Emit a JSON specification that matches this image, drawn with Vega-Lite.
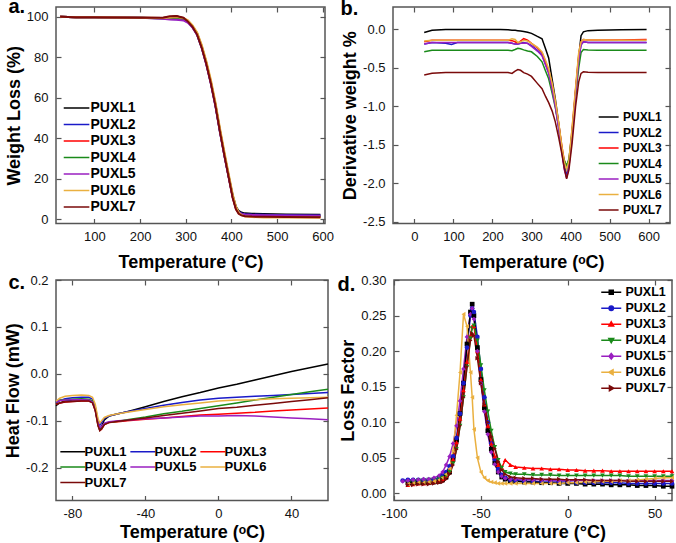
{
  "$schema": "https://vega.github.io/schema/vega-lite/v6.json",
  "background": "white",
  "padding": {"left": 3, "top": -4, "right": 2, "bottom": 0},
  "spacing": -2,
  "config": {
    "font": "Liberation Sans",
    "view": {"stroke": "#555", "strokeWidth": 1.5},
    "axis": {"grid": false, "domain": false, "labelFlush": false, "tickColor": "#555", "tickSize": -5, "tickWidth": 1.2, "labelFontSize": 13, "labelColor": "#111", "titleFontSize": 18, "titleFontWeight": "bold", "titleColor": "#000", "labelExpr": "replace(datum.label, '−', '-')"},
    "axisX": {"labelPadding": 12, "titlePadding": 10},
    "axisY": {"labelPadding": 13, "titlePadding": 3},
    "legend": {"labelFontWeight": "bold", "symbolStrokeWidth": 2, "padding": 0, "title": null},
    "line": {"strokeWidth": 1.5}
  },
  "datasets": {
    "ta": [
      {"x":25,"PUXL1":100,"PUXL2":100,"PUXL3":100,"PUXL4":100,"PUXL5":100,"PUXL6":100,"PUXL7":100},
      {"x":60,"PUXL1":99.8,"PUXL2":99.8,"PUXL3":99.8,"PUXL4":99.8,"PUXL5":99.8,"PUXL6":99.8,"PUXL7":99.8},
      {"x":100,"PUXL1":99.7,"PUXL2":99.7,"PUXL3":99.7,"PUXL4":99.7,"PUXL5":99.7,"PUXL6":99.7,"PUXL7":99.7},
      {"x":150,"PUXL1":99.6,"PUXL2":99.6,"PUXL3":99.6,"PUXL4":99.6,"PUXL5":99.6,"PUXL6":99.6,"PUXL7":99.6},
      {"x":200,"PUXL1":99.5,"PUXL2":99.5,"PUXL3":99.5,"PUXL4":99.5,"PUXL5":99.5,"PUXL6":99.5,"PUXL7":99.5},
      {"x":250,"PUXL1":99.4,"PUXL2":99.2,"PUXL3":99.4,"PUXL4":99.1,"PUXL5":99.0,"PUXL6":99.4,"PUXL7":99.5},
      {"x":265,"PUXL1":99.8,"PUXL2":98.9,"PUXL3":99.9,"PUXL4":99.2,"PUXL5":98.6,"PUXL6":99.6,"PUXL7":100.2},
      {"x":280,"PUXL1":100.2,"PUXL2":98.8,"PUXL3":100.1,"PUXL4":99.3,"PUXL5":98.5,"PUXL6":99.9,"PUXL7":100.4},
      {"x":295,"PUXL1":99.3,"PUXL2":98.5,"PUXL3":99.2,"PUXL4":98.8,"PUXL5":98.2,"PUXL6":99.4,"PUXL7":99.5},
      {"x":305,"PUXL1":97.8,"PUXL2":97.3,"PUXL3":97.8,"PUXL4":97.5,"PUXL5":97.0,"PUXL6":98.2,"PUXL7":97.6},
      {"x":315,"PUXL1":95.3,"PUXL2":94.8,"PUXL3":95.3,"PUXL4":95.0,"PUXL5":94.6,"PUXL6":95.8,"PUXL7":95.0},
      {"x":325,"PUXL1":91.8,"PUXL2":91.2,"PUXL3":91.6,"PUXL4":91.3,"PUXL5":91.0,"PUXL6":92.3,"PUXL7":91.2},
      {"x":335,"PUXL1":85.5,"PUXL2":84.8,"PUXL3":85.3,"PUXL4":85.0,"PUXL5":84.7,"PUXL6":86.2,"PUXL7":84.8},
      {"x":345,"PUXL1":77.5,"PUXL2":76.8,"PUXL3":77.3,"PUXL4":77.0,"PUXL5":76.5,"PUXL6":78.3,"PUXL7":76.8},
      {"x":355,"PUXL1":68.0,"PUXL2":67.3,"PUXL3":67.8,"PUXL4":67.5,"PUXL5":67.0,"PUXL6":69.0,"PUXL7":67.3},
      {"x":365,"PUXL1":57.0,"PUXL2":56.3,"PUXL3":56.8,"PUXL4":56.5,"PUXL5":56.0,"PUXL6":58.0,"PUXL7":56.3},
      {"x":375,"PUXL1":44.0,"PUXL2":43.3,"PUXL3":43.8,"PUXL4":43.5,"PUXL5":43.0,"PUXL6":45.0,"PUXL7":43.3},
      {"x":385,"PUXL1":32.0,"PUXL2":31.3,"PUXL3":31.6,"PUXL4":31.5,"PUXL5":31.0,"PUXL6":33.0,"PUXL7":31.3},
      {"x":395,"PUXL1":20.5,"PUXL2":20.0,"PUXL3":20.0,"PUXL4":20.2,"PUXL5":19.8,"PUXL6":21.5,"PUXL7":19.8},
      {"x":403,"PUXL1":11.8,"PUXL2":11.2,"PUXL3":10.8,"PUXL4":11.2,"PUXL5":10.8,"PUXL6":12.3,"PUXL7":10.6},
      {"x":410,"PUXL1":6.3,"PUXL2":5.8,"PUXL3":5.2,"PUXL4":5.6,"PUXL5":5.5,"PUXL6":6.3,"PUXL7":5.0},
      {"x":416,"PUXL1":4.2,"PUXL2":3.8,"PUXL3":3.0,"PUXL4":3.4,"PUXL5":3.5,"PUXL6":3.5,"PUXL7":2.8},
      {"x":422,"PUXL1":3.4,"PUXL2":3.0,"PUXL3":2.2,"PUXL4":2.5,"PUXL5":2.7,"PUXL6":2.2,"PUXL7":2.0},
      {"x":430,"PUXL1":3.0,"PUXL2":2.6,"PUXL3":1.8,"PUXL4":2.1,"PUXL5":2.4,"PUXL6":1.5,"PUXL7":1.6},
      {"x":445,"PUXL1":2.8,"PUXL2":2.4,"PUXL3":1.6,"PUXL4":1.9,"PUXL5":2.2,"PUXL6":1.2,"PUXL7":1.4},
      {"x":470,"PUXL1":2.7,"PUXL2":2.3,"PUXL3":1.5,"PUXL4":1.8,"PUXL5":2.1,"PUXL6":1.0,"PUXL7":1.3},
      {"x":520,"PUXL1":2.5,"PUXL2":2.1,"PUXL3":1.4,"PUXL4":1.7,"PUXL5":1.9,"PUXL6":0.9,"PUXL7":1.2},
      {"x":595,"PUXL1":2.3,"PUXL2":2.0,"PUXL3":1.3,"PUXL4":1.6,"PUXL5":1.8,"PUXL6":0.8,"PUXL7":1.1}
    ],
    "tb": [
      {"x":25,"PUXL1":-0.04,"PUXL2":-0.19,"PUXL3":-0.16,"PUXL4":-0.29,"PUXL5":-0.19,"PUXL6":-0.15,"PUXL7":-0.59},
      {"x":45,"PUXL1":-0.01,"PUXL2":-0.17,"PUXL3":-0.14,"PUXL4":-0.27,"PUXL5":-0.17,"PUXL6":-0.14,"PUXL7":-0.57},
      {"x":80,"PUXL1":0.0,"PUXL2":-0.18,"PUXL3":-0.14,"PUXL4":-0.27,"PUXL5":-0.17,"PUXL6":-0.14,"PUXL7":-0.56},
      {"x":95,"PUXL1":0.0,"PUXL2":-0.195,"PUXL3":-0.14,"PUXL4":-0.27,"PUXL5":-0.17,"PUXL6":-0.14,"PUXL7":-0.56},
      {"x":110,"PUXL1":0.0,"PUXL2":-0.17,"PUXL3":-0.14,"PUXL4":-0.27,"PUXL5":-0.17,"PUXL6":-0.14,"PUXL7":-0.56},
      {"x":160,"PUXL1":0.0,"PUXL2":-0.17,"PUXL3":-0.14,"PUXL4":-0.27,"PUXL5":-0.17,"PUXL6":-0.14,"PUXL7":-0.56},
      {"x":220,"PUXL1":0.0,"PUXL2":-0.17,"PUXL3":-0.14,"PUXL4":-0.27,"PUXL5":-0.17,"PUXL6":-0.14,"PUXL7":-0.56},
      {"x":240,"PUXL1":-0.005,"PUXL2":-0.17,"PUXL3":-0.14,"PUXL4":-0.27,"PUXL5":-0.17,"PUXL6":-0.14,"PUXL7":-0.56},
      {"x":250,"PUXL1":-0.01,"PUXL2":-0.18,"PUXL3":-0.145,"PUXL4":-0.275,"PUXL5":-0.18,"PUXL6":-0.12,"PUXL7":-0.57},
      {"x":258,"PUXL1":-0.01,"PUXL2":-0.19,"PUXL3":-0.16,"PUXL4":-0.26,"PUXL5":-0.19,"PUXL6":-0.13,"PUXL7":-0.54},
      {"x":265,"PUXL1":-0.015,"PUXL2":-0.19,"PUXL3":-0.18,"PUXL4":-0.245,"PUXL5":-0.19,"PUXL6":-0.17,"PUXL7":-0.52},
      {"x":272,"PUXL1":-0.02,"PUXL2":-0.18,"PUXL3":-0.15,"PUXL4":-0.25,"PUXL5":-0.18,"PUXL6":-0.16,"PUXL7":-0.53},
      {"x":280,"PUXL1":-0.025,"PUXL2":-0.17,"PUXL3":-0.12,"PUXL4":-0.265,"PUXL5":-0.175,"PUXL6":-0.14,"PUXL7":-0.56},
      {"x":290,"PUXL1":-0.035,"PUXL2":-0.18,"PUXL3":-0.14,"PUXL4":-0.28,"PUXL5":-0.18,"PUXL6":-0.15,"PUXL7":-0.58},
      {"x":300,"PUXL1":-0.05,"PUXL2":-0.21,"PUXL3":-0.18,"PUXL4":-0.29,"PUXL5":-0.22,"PUXL6":-0.18,"PUXL7":-0.61},
      {"x":315,"PUXL1":-0.09,"PUXL2":-0.27,"PUXL3":-0.24,"PUXL4":-0.35,"PUXL5":-0.28,"PUXL6":-0.23,"PUXL7":-0.70},
      {"x":327,"PUXL1":-0.12,"PUXL2":-0.33,"PUXL3":-0.30,"PUXL4":-0.42,"PUXL5":-0.34,"PUXL6":-0.29,"PUXL7":-0.77},
      {"x":336,"PUXL1":-0.25,"PUXL2":-0.45,"PUXL3":-0.42,"PUXL4":-0.54,"PUXL5":-0.46,"PUXL6":-0.40,"PUXL7":-0.87},
      {"x":344,"PUXL1":-0.37,"PUXL2":-0.56,"PUXL3":-0.53,"PUXL4":-0.64,"PUXL5":-0.57,"PUXL6":-0.51,"PUXL7":-0.95},
      {"x":353,"PUXL1":-0.65,"PUXL2":-0.75,"PUXL3":-0.72,"PUXL4":-0.83,"PUXL5":-0.78,"PUXL6":-0.70,"PUXL7":-1.06},
      {"x":361,"PUXL1":-0.90,"PUXL2":-0.98,"PUXL3":-0.95,"PUXL4":-1.01,"PUXL5":-1.0,"PUXL6":-0.92,"PUXL7":-1.20},
      {"x":370,"PUXL1":-1.23,"PUXL2":-1.28,"PUXL3":-1.24,"PUXL4":-1.28,"PUXL5":-1.30,"PUXL6":-1.22,"PUXL7":-1.41},
      {"x":378,"PUXL1":-1.55,"PUXL2":-1.58,"PUXL3":-1.52,"PUXL4":-1.58,"PUXL5":-1.60,"PUXL6":-1.52,"PUXL7":-1.62},
      {"x":384,"PUXL1":-1.78,"PUXL2":-1.78,"PUXL3":-1.70,"PUXL4":-1.70,"PUXL5":-1.82,"PUXL6":-1.72,"PUXL7":-1.80},
      {"x":390,"PUXL1":-1.92,"PUXL2":-1.86,"PUXL3":-1.78,"PUXL4":-1.77,"PUXL5":-1.93,"PUXL6":-1.82,"PUXL7":-1.94},
      {"x":396,"PUXL1":-1.75,"PUXL2":-1.72,"PUXL3":-1.70,"PUXL4":-1.68,"PUXL5":-1.78,"PUXL6":-1.70,"PUXL7":-1.82},
      {"x":404,"PUXL1":-1.36,"PUXL2":-1.34,"PUXL3":-1.30,"PUXL4":-1.34,"PUXL5":-1.40,"PUXL6":-1.28,"PUXL7":-1.48},
      {"x":413,"PUXL1":-0.80,"PUXL2":-0.82,"PUXL3":-0.78,"PUXL4":-0.88,"PUXL5":-0.85,"PUXL6":-0.75,"PUXL7":-1.0},
      {"x":421,"PUXL1":-0.36,"PUXL2":-0.38,"PUXL3":-0.33,"PUXL4":-0.50,"PUXL5":-0.40,"PUXL6":-0.30,"PUXL7":-0.68},
      {"x":427,"PUXL1":-0.08,"PUXL2":-0.20,"PUXL3":-0.16,"PUXL4":-0.30,"PUXL5":-0.20,"PUXL6":-0.16,"PUXL7":-0.57},
      {"x":433,"PUXL1":-0.03,"PUXL2":-0.16,"PUXL3":-0.13,"PUXL4":-0.26,"PUXL5":-0.16,"PUXL6":-0.13,"PUXL7":-0.55},
      {"x":445,"PUXL1":-0.015,"PUXL2":-0.17,"PUXL3":-0.135,"PUXL4":-0.265,"PUXL5":-0.17,"PUXL6":-0.135,"PUXL7":-0.555},
      {"x":470,"PUXL1":-0.01,"PUXL2":-0.17,"PUXL3":-0.135,"PUXL4":-0.27,"PUXL5":-0.17,"PUXL6":-0.135,"PUXL7":-0.56},
      {"x":530,"PUXL1":-0.005,"PUXL2":-0.17,"PUXL3":-0.135,"PUXL4":-0.27,"PUXL5":-0.17,"PUXL6":-0.14,"PUXL7":-0.56},
      {"x":595,"PUXL1":0.0,"PUXL2":-0.17,"PUXL3":-0.13,"PUXL4":-0.27,"PUXL5":-0.17,"PUXL6":-0.14,"PUXL7":-0.56}
    ],
    "tc": [
      {"x":-89,"PUXL1":-0.068,"PUXL2":-0.062,"PUXL3":-0.065,"PUXL4":-0.06,"PUXL5":-0.06,"PUXL6":-0.058,"PUXL7":-0.065},
      {"x":-87,"PUXL1":-0.062,"PUXL2":-0.057,"PUXL3":-0.062,"PUXL4":-0.056,"PUXL5":-0.057,"PUXL6":-0.052,"PUXL7":-0.062},
      {"x":-84,"PUXL1":-0.058,"PUXL2":-0.053,"PUXL3":-0.06,"PUXL4":-0.055,"PUXL5":-0.056,"PUXL6":-0.048,"PUXL7":-0.06},
      {"x":-80,"PUXL1":-0.056,"PUXL2":-0.051,"PUXL3":-0.059,"PUXL4":-0.054,"PUXL5":-0.055,"PUXL6":-0.046,"PUXL7":-0.059},
      {"x":-75,"PUXL1":-0.055,"PUXL2":-0.05,"PUXL3":-0.058,"PUXL4":-0.053,"PUXL5":-0.055,"PUXL6":-0.045,"PUXL7":-0.058},
      {"x":-71,"PUXL1":-0.056,"PUXL2":-0.05,"PUXL3":-0.058,"PUXL4":-0.054,"PUXL5":-0.056,"PUXL6":-0.046,"PUXL7":-0.058},
      {"x":-69,"PUXL1":-0.06,"PUXL2":-0.054,"PUXL3":-0.061,"PUXL4":-0.058,"PUXL5":-0.06,"PUXL6":-0.05,"PUXL7":-0.062},
      {"x":-67.5,"PUXL1":-0.075,"PUXL2":-0.07,"PUXL3":-0.078,"PUXL4":-0.075,"PUXL5":-0.076,"PUXL6":-0.065,"PUXL7":-0.078},
      {"x":-66,"PUXL1":-0.105,"PUXL2":-0.1,"PUXL3":-0.11,"PUXL4":-0.108,"PUXL5":-0.105,"PUXL6":-0.095,"PUXL7":-0.11},
      {"x":-65,"PUXL1":-0.118,"PUXL2":-0.11,"PUXL3":-0.121,"PUXL4":-0.12,"PUXL5":-0.115,"PUXL6":-0.105,"PUXL7":-0.121},
      {"x":-64,"PUXL1":-0.112,"PUXL2":-0.104,"PUXL3":-0.118,"PUXL4":-0.116,"PUXL5":-0.112,"PUXL6":-0.1,"PUXL7":-0.117},
      {"x":-62.5,"PUXL1":-0.098,"PUXL2":-0.095,"PUXL3":-0.108,"PUXL4":-0.107,"PUXL5":-0.105,"PUXL6":-0.093,"PUXL7":-0.108},
      {"x":-60,"PUXL1":-0.09,"PUXL2":-0.09,"PUXL3":-0.104,"PUXL4":-0.103,"PUXL5":-0.102,"PUXL6":-0.089,"PUXL7":-0.104},
      {"x":-55,"PUXL1":-0.085,"PUXL2":-0.085,"PUXL3":-0.102,"PUXL4":-0.101,"PUXL5":-0.1,"PUXL6":-0.085,"PUXL7":-0.101},
      {"x":-50,"PUXL1":-0.081,"PUXL2":-0.081,"PUXL3":-0.1,"PUXL4":-0.098,"PUXL5":-0.099,"PUXL6":-0.082,"PUXL7":-0.099},
      {"x":-40,"PUXL1":-0.07,"PUXL2":-0.074,"PUXL3":-0.097,"PUXL4":-0.092,"PUXL5":-0.096,"PUXL6":-0.076,"PUXL7":-0.094},
      {"x":-30,"PUXL1":-0.059,"PUXL2":-0.067,"PUXL3":-0.094,"PUXL4":-0.085,"PUXL5":-0.094,"PUXL6":-0.07,"PUXL7":-0.089},
      {"x":-20,"PUXL1":-0.049,"PUXL2":-0.061,"PUXL3":-0.091,"PUXL4":-0.08,"PUXL5":-0.092,"PUXL6":-0.066,"PUXL7":-0.084},
      {"x":-10,"PUXL1":-0.04,"PUXL2":-0.056,"PUXL3":-0.088,"PUXL4":-0.074,"PUXL5":-0.09,"PUXL6":-0.062,"PUXL7":-0.079},
      {"x":0,"PUXL1":-0.03,"PUXL2":-0.052,"PUXL3":-0.086,"PUXL4":-0.068,"PUXL5":-0.09,"PUXL6":-0.058,"PUXL7":-0.074},
      {"x":10,"PUXL1":-0.022,"PUXL2":-0.05,"PUXL3":-0.084,"PUXL4":-0.062,"PUXL5":-0.089,"PUXL6":-0.056,"PUXL7":-0.071},
      {"x":20,"PUXL1":-0.013,"PUXL2":-0.048,"PUXL3":-0.082,"PUXL4":-0.056,"PUXL5":-0.09,"PUXL6":-0.055,"PUXL7":-0.067},
      {"x":30,"PUXL1":-0.004,"PUXL2":-0.046,"PUXL3":-0.079,"PUXL4":-0.05,"PUXL5":-0.092,"PUXL6":-0.053,"PUXL7":-0.063},
      {"x":40,"PUXL1":0.005,"PUXL2":-0.044,"PUXL3":-0.077,"PUXL4":-0.044,"PUXL5":-0.094,"PUXL6":-0.052,"PUXL7":-0.059},
      {"x":50,"PUXL1":0.013,"PUXL2":-0.042,"PUXL3":-0.075,"PUXL4":-0.038,"PUXL5":-0.096,"PUXL6":-0.051,"PUXL7":-0.055},
      {"x":60,"PUXL1":0.021,"PUXL2":-0.04,"PUXL3":-0.073,"PUXL4":-0.033,"PUXL5":-0.098,"PUXL6":-0.05,"PUXL7":-0.051}
    ],
    "td": [
      {"x":-95,"PUXL1":null,"PUXL2":0.018,"PUXL3":null,"PUXL4":null,"PUXL5":0.017,"PUXL6":null,"PUXL7":null},
      {"x":-92,"PUXL1":0.015,"PUXL2":0.019,"PUXL3":0.012,"PUXL4":0.016,"PUXL5":0.018,"PUXL6":0.013,"PUXL7":0.012},
      {"x":-89,"PUXL1":0.015,"PUXL2":0.019,"PUXL3":0.013,"PUXL4":0.017,"PUXL5":0.019,"PUXL6":0.014,"PUXL7":0.012},
      {"x":-86,"PUXL1":0.015,"PUXL2":0.019,"PUXL3":0.014,"PUXL4":0.018,"PUXL5":0.019,"PUXL6":0.015,"PUXL7":0.013},
      {"x":-83,"PUXL1":0.015,"PUXL2":0.019,"PUXL3":0.014,"PUXL4":0.018,"PUXL5":0.02,"PUXL6":0.015,"PUXL7":0.013},
      {"x":-80,"PUXL1":0.015,"PUXL2":0.019,"PUXL3":0.015,"PUXL4":0.019,"PUXL5":0.02,"PUXL6":0.016,"PUXL7":0.013},
      {"x":-77,"PUXL1":0.016,"PUXL2":0.02,"PUXL3":0.016,"PUXL4":0.02,"PUXL5":0.022,"PUXL6":0.017,"PUXL7":0.014},
      {"x":-74,"PUXL1":0.017,"PUXL2":0.022,"PUXL3":0.018,"PUXL4":0.021,"PUXL5":0.025,"PUXL6":0.019,"PUXL7":0.015},
      {"x":-72,"PUXL1":0.019,"PUXL2":0.025,"PUXL3":0.02,"PUXL4":0.022,"PUXL5":0.03,"PUXL6":0.022,"PUXL7":0.016},
      {"x":-70,"PUXL1":0.023,"PUXL2":0.03,"PUXL3":0.025,"PUXL4":0.025,"PUXL5":0.04,"PUXL6":0.027,"PUXL7":0.02},
      {"x":-68,"PUXL1":0.03,"PUXL2":0.038,"PUXL3":0.032,"PUXL4":0.03,"PUXL5":0.052,"PUXL6":0.035,"PUXL7":0.027},
      {"x":-66,"PUXL1":0.048,"PUXL2":0.052,"PUXL3":0.048,"PUXL4":0.042,"PUXL5":0.07,"PUXL6":0.06,"PUXL7":0.04},
      {"x":-64,"PUXL1":0.075,"PUXL2":0.078,"PUXL3":0.072,"PUXL4":0.062,"PUXL5":0.095,"PUXL6":0.11,"PUXL7":0.062},
      {"x":-62,"PUXL1":0.112,"PUXL2":0.112,"PUXL3":0.105,"PUXL4":0.095,"PUXL5":0.13,"PUXL6":0.17,"PUXL7":0.095},
      {"x":-60,"PUXL1":0.155,"PUXL2":0.155,"PUXL3":0.145,"PUXL4":0.135,"PUXL5":0.175,"PUXL6":0.252,"PUXL7":0.135},
      {"x":-58,"PUXL1":0.21,"PUXL2":0.205,"PUXL3":0.185,"PUXL4":0.178,"PUXL5":0.22,"PUXL6":0.235,"PUXL7":0.178},
      {"x":-56,"PUXL1":0.255,"PUXL2":0.25,"PUXL3":0.222,"PUXL4":0.218,"PUXL5":0.252,"PUXL6":0.17,"PUXL7":0.215},
      {"x":-55,"PUXL1":0.266,"PUXL2":0.26,"PUXL3":0.235,"PUXL4":0.232,"PUXL5":0.26,"PUXL6":0.135,"PUXL7":0.225},
      {"x":-54,"PUXL1":0.25,"PUXL2":0.255,"PUXL3":0.235,"PUXL4":0.236,"PUXL5":0.245,"PUXL6":0.09,"PUXL7":0.222},
      {"x":-52,"PUXL1":0.205,"PUXL2":0.22,"PUXL3":0.2,"PUXL4":0.215,"PUXL5":0.2,"PUXL6":0.05,"PUXL7":0.19},
      {"x":-50,"PUXL1":0.16,"PUXL2":0.175,"PUXL3":0.16,"PUXL4":0.18,"PUXL5":0.155,"PUXL6":0.03,"PUXL7":0.155},
      {"x":-48,"PUXL1":0.12,"PUXL2":0.135,"PUXL3":0.125,"PUXL4":0.145,"PUXL5":0.115,"PUXL6":0.022,"PUXL7":0.125},
      {"x":-46,"PUXL1":0.088,"PUXL2":0.1,"PUXL3":0.095,"PUXL4":0.115,"PUXL5":0.083,"PUXL6":0.018,"PUXL7":0.1},
      {"x":-44,"PUXL1":0.062,"PUXL2":0.07,"PUXL3":0.07,"PUXL4":0.088,"PUXL5":0.058,"PUXL6":0.016,"PUXL7":0.08},
      {"x":-42,"PUXL1":0.043,"PUXL2":0.048,"PUXL3":0.052,"PUXL4":0.065,"PUXL5":0.041,"PUXL6":0.015,"PUXL7":0.063},
      {"x":-40,"PUXL1":0.03,"PUXL2":0.034,"PUXL3":0.04,"PUXL4":0.047,"PUXL5":0.03,"PUXL6":0.014,"PUXL7":0.045},
      {"x":-38,"PUXL1":0.023,"PUXL2":0.026,"PUXL3":0.036,"PUXL4":0.036,"PUXL5":0.024,"PUXL6":0.014,"PUXL7":0.033},
      {"x":-36,"PUXL1":0.02,"PUXL2":0.022,"PUXL3":0.047,"PUXL4":0.03,"PUXL5":0.021,"PUXL6":0.014,"PUXL7":0.027},
      {"x":-33,"PUXL1":0.018,"PUXL2":0.019,"PUXL3":0.04,"PUXL4":0.028,"PUXL5":0.02,"PUXL6":0.014,"PUXL7":0.023},
      {"x":-30,"PUXL1":0.017,"PUXL2":0.018,"PUXL3":0.037,"PUXL4":0.027,"PUXL5":0.02,"PUXL6":0.014,"PUXL7":0.022},
      {"x":-25,"PUXL1":0.016,"PUXL2":0.017,"PUXL3":0.036,"PUXL4":0.027,"PUXL5":0.019,"PUXL6":0.014,"PUXL7":0.021},
      {"x":-20,"PUXL1":0.016,"PUXL2":0.017,"PUXL3":0.035,"PUXL4":0.026,"PUXL5":0.019,"PUXL6":0.014,"PUXL7":0.021},
      {"x":-15,"PUXL1":0.015,"PUXL2":0.016,"PUXL3":0.035,"PUXL4":0.026,"PUXL5":0.019,"PUXL6":0.014,"PUXL7":0.02},
      {"x":-10,"PUXL1":0.015,"PUXL2":0.016,"PUXL3":0.034,"PUXL4":0.026,"PUXL5":0.018,"PUXL6":0.014,"PUXL7":0.02},
      {"x":-5,"PUXL1":0.014,"PUXL2":0.016,"PUXL3":0.034,"PUXL4":0.025,"PUXL5":0.018,"PUXL6":0.014,"PUXL7":0.02},
      {"x":0,"PUXL1":0.014,"PUXL2":0.016,"PUXL3":0.033,"PUXL4":0.025,"PUXL5":0.018,"PUXL6":0.015,"PUXL7":0.019},
      {"x":5,"PUXL1":0.014,"PUXL2":0.015,"PUXL3":0.033,"PUXL4":0.025,"PUXL5":0.018,"PUXL6":0.015,"PUXL7":0.019},
      {"x":10,"PUXL1":0.013,"PUXL2":0.015,"PUXL3":0.032,"PUXL4":0.025,"PUXL5":0.018,"PUXL6":0.016,"PUXL7":0.019},
      {"x":15,"PUXL1":0.013,"PUXL2":0.015,"PUXL3":0.032,"PUXL4":0.025,"PUXL5":0.018,"PUXL6":0.016,"PUXL7":0.018},
      {"x":20,"PUXL1":0.013,"PUXL2":0.015,"PUXL3":0.032,"PUXL4":0.025,"PUXL5":0.018,"PUXL6":0.017,"PUXL7":0.018},
      {"x":25,"PUXL1":0.012,"PUXL2":0.015,"PUXL3":0.031,"PUXL4":0.025,"PUXL5":0.018,"PUXL6":0.017,"PUXL7":0.018},
      {"x":30,"PUXL1":0.012,"PUXL2":0.015,"PUXL3":0.031,"PUXL4":0.025,"PUXL5":0.018,"PUXL6":0.018,"PUXL7":0.018},
      {"x":35,"PUXL1":0.012,"PUXL2":0.014,"PUXL3":0.031,"PUXL4":0.024,"PUXL5":0.018,"PUXL6":0.018,"PUXL7":0.017},
      {"x":40,"PUXL1":0.011,"PUXL2":0.014,"PUXL3":0.031,"PUXL4":0.024,"PUXL5":0.018,"PUXL6":0.019,"PUXL7":0.017},
      {"x":45,"PUXL1":0.011,"PUXL2":0.014,"PUXL3":0.031,"PUXL4":0.024,"PUXL5":0.018,"PUXL6":0.02,"PUXL7":0.017},
      {"x":50,"PUXL1":0.011,"PUXL2":0.014,"PUXL3":0.031,"PUXL4":0.024,"PUXL5":0.018,"PUXL6":0.021,"PUXL7":0.017},
      {"x":55,"PUXL1":0.01,"PUXL2":0.014,"PUXL3":0.031,"PUXL4":0.024,"PUXL5":0.018,"PUXL6":0.022,"PUXL7":0.017},
      {"x":60,"PUXL1":0.01,"PUXL2":0.014,"PUXL3":0.031,"PUXL4":0.024,"PUXL5":0.018,"PUXL6":0.022,"PUXL7":0.017}
    ]
  },
  "vconcat": [
    {
      "spacing": 4,
      "hconcat": [
        {
          "width": 269, "height": 216.5,
          "data": {"name": "ta"},
          "transform": [{"fold": ["PUXL1","PUXL2","PUXL3","PUXL4","PUXL5","PUXL6","PUXL7"], "as": ["s","y"]}],
          "resolve": {"axis": {"x": "independent", "y": "independent"}},
          "layer": [
            {
              "mark": {"type": "line", "strokeWidth": 2},
              "encoding": {
                "x": {"field": "x", "type": "quantitative", "scale": {"domain": [16, 605], "nice": false, "zero": false}, "axis": {"title": "Temperature (°C)", "values": [100,200,300,400,500,600]}},
                "y": {"field": "y", "type": "quantitative", "scale": {"domain": [-2, 104.8], "nice": false, "zero": false}, "axis": {"title": "Weight Loss (%)", "values": [0,20,40,60,80,100]}},
                "color": {"field": "s", "type": "nominal", "sort": null,
                  "scale": {"domain": ["PUXL1","PUXL2","PUXL3","PUXL4","PUXL5","PUXL6","PUXL7"], "range": ["#000000","#1a1ac8","#ff0000","#1a8a1a","#9a1fc0","#eab040","#7a0a0a"]},
                  "legend": {"orient": "none", "legendX": 5, "legendY": 94, "labelFontSize": 14, "symbolType": "M-1,0H5", "symbolSize": 73, "labelOffset": 15.5, "rowPadding": 2.5,
                    "encode": {"labels": {"update": {"fill": {"signal": "['#000000','#1a1ac8','#ff0000','#1a8a1a','#9a1fc0','#eab040','#7a0a0a'][indexof(['PUXL1','PUXL2','PUXL3','PUXL4','PUXL5','PUXL6','PUXL7'], datum.value)]"}}}}}}
              }
            },
            {
              "mark": {"type": "line", "opacity": 0},
              "encoding": {
                "x": {"field": "x", "type": "quantitative", "axis": {"orient": "top", "labels": false, "values": [100,200,300,400,500,600], "title": "a.", "titleX": -48, "titleY": 5.8, "titleAngle": 0, "titleAlign": "left", "titleBaseline": "alphabetic", "titleFontSize": 20}},
                "y": {"field": "y", "type": "quantitative", "axis": {"orient": "right", "labels": false, "title": null, "values": [0,20,40,60,80,100]}}
              }
            }
          ]
        },
        {
          "width": 277, "height": 216.5,
          "data": {"name": "tb"},
          "transform": [{"fold": ["PUXL1","PUXL2","PUXL3","PUXL4","PUXL5","PUXL6","PUXL7"], "as": ["s","y"]}],
          "resolve": {"axis": {"x": "independent", "y": "independent"}},
          "layer": [
            {
              "mark": {"type": "line", "strokeWidth": 1.5},
              "encoding": {
                "x": {"field": "x", "type": "quantitative", "scale": {"domain": [-55, 655], "nice": false, "zero": false}, "axis": {"title": "Temperature (ᵒC)", "values": [0,100,200,300,400,500,600]}},
                "y": {"field": "y", "type": "quantitative", "scale": {"domain": [-2.52, 0.292], "nice": false, "zero": false}, "axis": {"title": "Derivative weight %", "values": [-2.5,-2,-1.5,-1,-0.5,0], "format": ".1f"}},
                "color": {"field": "s", "type": "nominal", "sort": null,
                  "scale": {"domain": ["PUXL1","PUXL2","PUXL3","PUXL4","PUXL5","PUXL6","PUXL7"], "range": ["#000000","#1a1ac8","#ff0000","#1a8a1a","#9a1fc0","#eab040","#7a0a0a"]},
                  "legend": {"orient": "bottom-right", "offset": 8, "labelFontSize": 12, "symbolType": "M-1,0H5", "symbolSize": 44, "labelOffset": 15, "rowPadding": 3.5,
                    "encode": {"labels": {"update": {"fill": {"signal": "['#000000','#1a1ac8','#ff0000','#1a8a1a','#9a1fc0','#eab040','#7a0a0a'][indexof(['PUXL1','PUXL2','PUXL3','PUXL4','PUXL5','PUXL6','PUXL7'], datum.value)]"}}}}}}
              }
            },
            {
              "mark": {"type": "line", "opacity": 0},
              "encoding": {
                "x": {"field": "x", "type": "quantitative", "axis": {"orient": "top", "labels": false, "values": [0,100,200,300,400,500,600], "title": "b.", "titleX": -53, "titleY": 7.5, "titleAngle": 0, "titleAlign": "left", "titleBaseline": "alphabetic", "titleFontSize": 20}},
                "y": {"field": "y", "type": "quantitative", "axis": {"orient": "right", "labels": false, "title": null, "values": [-2.5,-2,-1.5,-1,-0.5,0]}}
              }
            }
          ]
        }
      ]
    },
    {
      "spacing": 4,
      "hconcat": [
        {
          "width": 272, "height": 220.5,
          "data": {"name": "tc"},
          "transform": [{"fold": ["PUXL1","PUXL2","PUXL3","PUXL4","PUXL5","PUXL6","PUXL7"], "as": ["s","y"]}],
          "resolve": {"axis": {"x": "independent", "y": "independent"}},
          "layer": [
            {
              "mark": {"type": "line", "strokeWidth": 1.5},
              "encoding": {
                "x": {"field": "x", "type": "quantitative", "scale": {"domain": [-89, 60], "nice": false, "zero": false}, "axis": {"title": "Temperature (ᵒC)", "values": [-80,-40,0,40], "titlePadding": 3}},
                "y": {"field": "y", "type": "quantitative", "scale": {"domain": [-0.27, 0.2], "nice": false, "zero": false}, "axis": {"title": "Heat Flow (mW)", "values": [-0.2,-0.1,0,0.1,0.2], "format": ".1f"}},
                "color": {"field": "s", "type": "nominal", "sort": null,
                  "scale": {"domain": ["PUXL1","PUXL2","PUXL3","PUXL4","PUXL5","PUXL6","PUXL7"], "range": ["#000000","#1a1ac8","#ff0000","#1a8a1a","#9a1fc0","#eab040","#7a0a0a"]},
                  "legend": {"orient": "none", "legendX": 2, "legendY": 165, "direction": "horizontal", "columns": 3, "columnPadding": 0, "labelFontSize": 13, "symbolType": "M-1,0H5", "symbolSize": 69, "labelOffset": 13.5, "rowPadding": 1.5,
                    "encode": {"labels": {"update": {"fill": {"signal": "['#000000','#1a1ac8','#ff0000','#1a8a1a','#9a1fc0','#eab040','#7a0a0a'][indexof(['PUXL1','PUXL2','PUXL3','PUXL4','PUXL5','PUXL6','PUXL7'], datum.value)]"}}}}}}
              }
            },
            {
              "mark": {"type": "line", "opacity": 0},
              "encoding": {
                "x": {"field": "x", "type": "quantitative", "axis": {"orient": "top", "labels": false, "values": [-80,-40,0,40], "title": "c.", "titleX": -48, "titleY": 8.5, "titleAngle": 0, "titleAlign": "left", "titleBaseline": "alphabetic", "titleFontSize": 20}},
                "y": {"field": "y", "type": "quantitative", "axis": {"orient": "right", "labels": false, "title": null, "values": [-0.2,-0.1,0,0.1,0.2]}}
              }
            }
          ]
        },
        {
          "width": 278, "height": 220.5,
          "data": {"name": "td"},
          "transform": [{"fold": ["PUXL1","PUXL2","PUXL3","PUXL4","PUXL5","PUXL6","PUXL7"], "as": ["s","y"]}, {"filter": "datum.y != null"}],
          "resolve": {"axis": {"x": "independent", "y": "independent"}},
          "layer": [
            {
              "mark": {"type": "line", "strokeWidth": 1.5},
              "encoding": {
                "x": {"field": "x", "type": "quantitative", "scale": {"domain": [-100, 60], "nice": false, "zero": false}, "axis": {"title": "Temperature (°C)", "values": [-100,-50,0,50], "titlePadding": 3}},
                "y": {"field": "y", "type": "quantitative", "scale": {"domain": [-0.01, 0.3], "nice": false, "zero": false}, "axis": {"title": "Loss Factor", "values": [0,0.05,0.1,0.15,0.2,0.25,0.3], "format": ".2f"}},
                "color": {"field": "s", "type": "nominal", "sort": null,
                  "scale": {"domain": ["PUXL1","PUXL2","PUXL3","PUXL4","PUXL5","PUXL6","PUXL7"], "range": ["#000000","#1f3fc0","#ff0000","#1a8a1a","#9a1fc0","#eab040","#7a0a0a"]},
                  "legend": {"orient": "top-right", "offset": 6, "labelFontSize": 12.5, "symbolSize": 16, "rowPadding": 3, "labelOffset": 16, "symbolStrokeWidth": 1.5,
                    "symbolType": {"expr": "['M-1,0H9M3,-1H5V1H3Z','M-1,0H9M2.9,0A1.1,1.1,0,1,1,5.1,0A1.1,1.1,0,1,1,2.9,0Z','M-1,0H9M4,-1.2L5.2,0.9H2.8Z','M-1,0H9M4,1.2L5.2,-0.9H2.8Z','M-1,0H9M4,-1.35L5.1,0L4,1.35L2.9,0Z','M-1,0H9M2.8,0L4.9,-1.2V1.2Z','M-1,0H9M5.2,0L3.1,-1.2V1.2Z'][indexof(['PUXL1','PUXL2','PUXL3','PUXL4','PUXL5','PUXL6','PUXL7'], datum.value)]"},
                    "symbolFillColor": {"expr": "['#000000','#1f3fc0','#ff0000','#1a8a1a','#9a1fc0','#eab040','#7a0a0a'][indexof(['PUXL1','PUXL2','PUXL3','PUXL4','PUXL5','PUXL6','PUXL7'], datum.value)]"},
                    "encode": {"labels": {"update": {"fill": {"signal": "['#000000','#1f3fc0','#ff0000','#1a8a1a','#9a1fc0','#eab040','#7a0a0a'][indexof(['PUXL1','PUXL2','PUXL3','PUXL4','PUXL5','PUXL6','PUXL7'], datum.value)]"}}}}}}
              }
            },
            {
              "mark": {"type": "point", "filled": true, "size": 22, "opacity": 1},
              "encoding": {
                "x": {"field": "x", "type": "quantitative", "axis": {"orient": "top", "labels": false, "values": [-100,-50,0,50], "title": "d.", "titleX": -57, "titleY": 10.5, "titleAngle": 0, "titleAlign": "left", "titleBaseline": "alphabetic", "titleFontSize": 20}},
                "y": {"field": "y", "type": "quantitative", "axis": {"orient": "right", "labels": false, "title": null, "values": [0,0.05,0.1,0.15,0.2,0.25,0.3]}},
                "color": {"field": "s", "type": "nominal", "sort": null, "legend": null},
                "shape": {"field": "s", "type": "nominal", "sort": null, "legend": null, "scale": {"domain": ["PUXL1","PUXL2","PUXL3","PUXL4","PUXL5","PUXL6","PUXL7"], "range": ["square","circle","triangle-up","triangle-down","diamond","triangle-left","triangle-right"]}}
              }
            }
          ]
        }
      ]
    }
  ]
}
